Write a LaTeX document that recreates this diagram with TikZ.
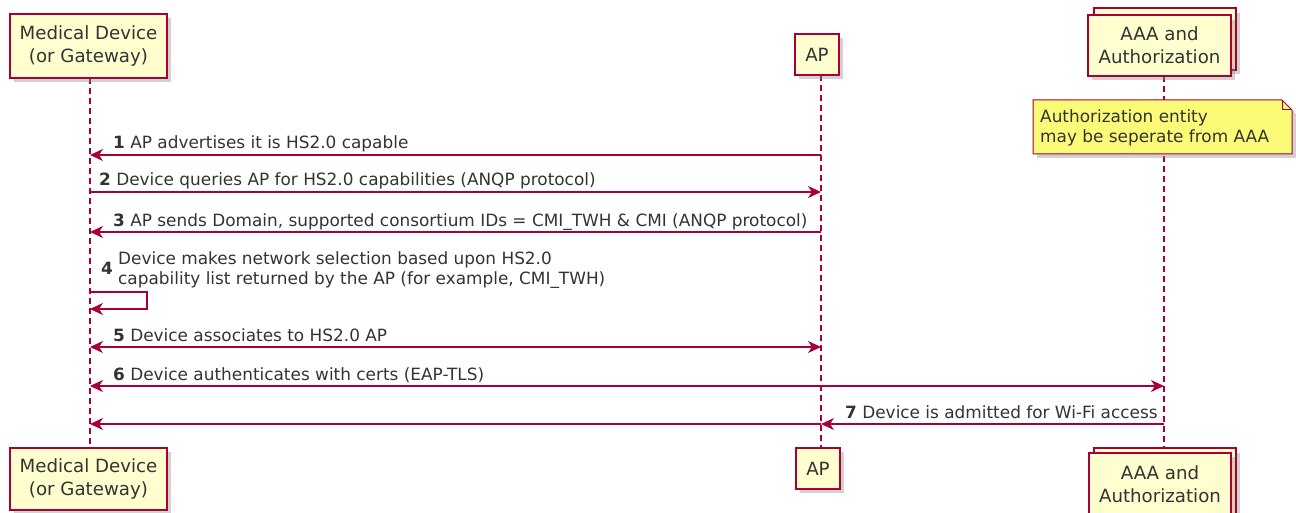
\documentclass[tikz,border=0pt]{standalone}
\usepackage{fontspec}
\setmainfont{DejaVu Sans}
\usetikzlibrary{arrows.meta}
\definecolor{pline}{HTML}{A80036}
\definecolor{pfill}{HTML}{FEFECE}
\definecolor{nfill}{HTML}{FBFB77}
\definecolor{ptext}{HTML}{333333}
\tikzset{
  partbox/.style={draw=pline, fill=pfill, line width=1.4pt},
  shadowbox/.style={fill=black!45, opacity=0.4},
  parttext/.style={font=\fontsize{18.2}{23}\selectfont, text=ptext, align=center, inner sep=0},
  msgtext/.style={font=\fontsize{16.9}{20}\selectfont, text=ptext, anchor=base west, inner sep=0, align=left},
  lifeline/.style={draw=pline, line width=1.2pt, dash pattern=on 6pt off 4pt},
  msg/.style={draw=pline, line width=1.2pt, -{Stealth[length=13pt,width=12pt,inset=4pt]}},
  dmsg/.style={draw=pline, line width=1.2pt, {Stealth[length=13pt,width=12pt,inset=4pt]}-{Stealth[length=13pt,width=12pt,inset=4pt]}},
}
\begin{document}
\begin{tikzpicture}[x=1pt,y=-1pt]
\useasboundingbox (0,0) rectangle (1296,513);
% lifelines
\coordinate (dTop) at (90,78);
\coordinate (dBot) at (90,448);
\coordinate (aTop) at (821,75);
\coordinate (aBot) at (821,448);
\coordinate (xTop) at (1164,76);
\coordinate (xBot) at (1164,448);
\draw[lifeline] (dTop) -- (dBot);
\draw[lifeline] (aTop) -- (aBot);
\draw[lifeline] (xTop) -- (xBot);
% top participants
\fill[shadowbox] (14,18) rectangle (171,82);
\draw[partbox] (10,14) rectangle (167,78);
\node[parttext] (devT) at (88.5,46) {Medical Device\\(or Gateway)};
\fill[shadowbox] (799,38) rectangle (843,79);
\draw[partbox] (795,34) rectangle (839,75);
\node[parttext] (apT) at (817,54.5) {AP};
\fill[shadowbox] (1099,13) rectangle (1240,74);
\draw[partbox] (1094,8) rectangle (1236,70);
\fill[shadowbox] (1092,20) rectangle (1235,80);
\draw[partbox] (1088,15) rectangle (1231,76);
\node[parttext] (aaaT) at (1159.5,45.5) {AAA and\\Authorization};
% bottom participants
\fill[shadowbox] (14,452) rectangle (171,514);
\draw[partbox] (10,448) rectangle (167,510);
\node[parttext] (devB) at (88.5,479) {Medical Device\\(or Gateway)};
\fill[shadowbox] (800,452) rectangle (844,493);
\draw[partbox] (796,448) rectangle (840,489);
\node[parttext] (apB) at (818,468.5) {AP};
\fill[shadowbox] (1099,453) rectangle (1240,520);
\draw[partbox] (1094,448) rectangle (1236,518);
\fill[shadowbox] (1093,457) rectangle (1235,520);
\draw[partbox] (1089,453) rectangle (1231,518);
\node[parttext] (aaaB) at (1160,484.5) {AAA and\\Authorization};
% note
\fill[shadowbox] (1037,104) -- (1286,104) -- (1296,114) -- (1296,158) -- (1037,158) -- cycle;
\draw[draw=pline, fill=nfill, line width=1pt] (1033,100) -- (1282,100) -- (1292,110) -- (1292,154) -- (1033,154) -- cycle;
\draw[draw=pline, line width=1pt] (1282,100) -- (1282,110) -- (1292,110);
\node[msgtext] (note) at (1040,143) {Authorization entity\\may be seperate from AAA};
% message 1
\coordinate (a1) at (821,155); \coordinate (d1) at (90,155);
\draw[msg] (a1) -- (d1);
\node[msgtext] (m1) at (113,149) {\textbf{1} AP advertises it is HS2.0 capable};
% message 2
\coordinate (d2) at (90,192); \coordinate (a2) at (821,192);
\draw[msg] (d2) -- (a2);
\node[msgtext] (m2) at (99,186) {\textbf{2} Device queries AP for HS2.0 capabilities (ANQP protocol)};
% message 3
\coordinate (a3) at (821,232); \coordinate (d3) at (90,232);
\draw[msg] (a3) -- (d3);
\node[msgtext] (m3) at (113,226) {\textbf{3} AP sends Domain, supported consortium IDs = CMI\_TWH \& CMI (ANQP protocol)};
% message 4 (self)
\coordinate (d4a) at (90,292); \coordinate (d4b) at (90,309);
\draw[msg] (d4a) -- (147,292) -- (147,309) -- (d4b);
\node[msgtext] (m4n) at (101,274) {\textbf{4}};
\node[msgtext] (m4) at (118,284) {Device makes network selection based upon HS2.0\\capability list returned by the AP (for example, CMI\_TWH)};
% message 5
\coordinate (d5) at (90,347); \coordinate (a5) at (821,347);
\draw[dmsg] (d5) -- (a5);
\node[msgtext] (m5) at (113,341) {\textbf{5} Device associates to HS2.0 AP};
% message 6
\coordinate (d6) at (90,386); \coordinate (x6) at (1164,386);
\draw[dmsg] (d6) -- (x6);
\node[msgtext] (m6) at (113,380) {\textbf{6} Device authenticates with certs (EAP-TLS)};
% message 7
\coordinate (x7) at (1164,424); \coordinate (a7) at (821,424); \coordinate (d7) at (90,424);
\draw[msg] (x7) -- (a7);
\draw[msg] (a7) -- (d7);
\node[msgtext] (m7) at (845,418) {\textbf{7} Device is admitted for Wi-Fi access};
\end{tikzpicture}
\end{document}
